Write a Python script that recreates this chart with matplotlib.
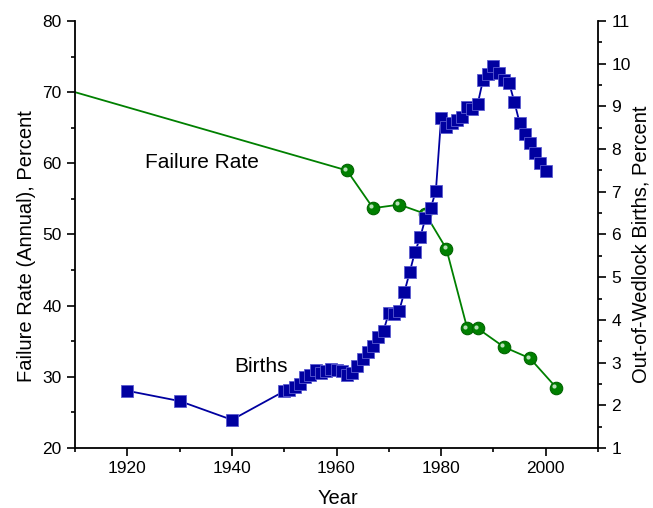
import matplotlib
matplotlib.use("Agg")
import matplotlib.pyplot as plt
import matplotlib.transforms as mtrans
from matplotlib.ticker import MultipleLocator

plt.rcParams['font.family'] = ['Liberation Sans', 'DejaVu Sans']

# Failure rate (left axis)
fail_years = [1910, 1962, 1967, 1972, 1977, 1981, 1985, 1987, 1992, 1997, 2002]
fail_rate = [70.0, 59.0, 53.7, 54.2, 52.9, 48.0, 36.8, 36.8, 34.2, 32.6, 28.5]

# Out-of-wedlock births (right axis)
birth_years = [1920, 1930, 1940] + list(range(1950, 2001))
birth_pct = [2.34, 2.10, 1.66,
             2.33, 2.37, 2.42, 2.50, 2.66, 2.70, 2.83, 2.76, 2.80, 2.86,
             2.83, 2.80, 2.71, 2.76, 2.91, 3.08, 3.24, 3.39, 3.59, 3.75,
             4.16, 4.13, 4.22, 4.66, 5.12, 5.59, 5.93, 6.38, 6.61, 7.02,
             8.73, 8.52, 8.62, 8.67, 8.76, 8.98, 8.94, 9.06, 9.61, 9.75,
             9.94, 9.78, 9.62, 9.55, 9.11, 8.62, 8.36, 8.14, 7.91, 7.67,
             7.48]

green = '#008000'
blue = '#0000A0'

fig = plt.figure(figsize=(6.53, 5.08), dpi=100)
ax = fig.add_axes([75/653, 1-448/508, (598-75)/653, (448-21)/508])
ax2 = ax.twinx()

# green series on left axis
ax.plot(fail_years, fail_rate, color=green, lw=1.3, zorder=2)
ax.plot(fail_years[1:], fail_rate[1:], 'o', ms=9, color=green,
        mec='#006400', mew=0.8, zorder=3)
ax.plot(fail_years[1:], fail_rate[1:], 'o', ms=3, color='#b8e0b8',
        mec='none', zorder=4,
        transform=ax.transData + mtrans.ScaledTranslation(-1.3/72, 1.3/72, fig.dpi_scale_trans))

# blue series on right axis
ax2.plot(birth_years, birth_pct, color=blue, lw=1.3, marker='s', ms=8.5,
         mfc=blue, mec='#5a5ad0', mew=0.6, zorder=3)

ax.set_xlim(1910, 2010)
ax.set_ylim(20, 80)
ax2.set_ylim(1, 11)

ax.xaxis.set_major_locator(MultipleLocator(20))
ax.xaxis.set_minor_locator(MultipleLocator(10))
ax.yaxis.set_major_locator(MultipleLocator(10))
ax.yaxis.set_minor_locator(MultipleLocator(5))
ax2.yaxis.set_major_locator(MultipleLocator(1))
ax2.yaxis.set_minor_locator(MultipleLocator(0.5))

for a in (ax, ax2):
    a.spines['top'].set_visible(False)
    for s in a.spines.values():
        s.set_linewidth(1.3)
    a.tick_params(which='major', direction='out', length=5.5, width=1.2,
                  labelsize=12.5, pad=4)
    a.tick_params(which='minor', direction='out', length=3.2, width=1.2)
ax.spines['right'].set_visible(False)
ax2.spines['left'].set_visible(False)
ax2.spines['bottom'].set_visible(False)

ax.set_xlabel('Year', fontsize=14.5, va='center')
ax.xaxis.set_label_coords(0.503, -0.119)
ax.set_ylabel('Failure Rate (Annual), Percent', fontsize=14.5,
              rotation=90, va='center', ha='center')
ax.yaxis.set_label_coords(-0.092, 0.474)
ax2.set_ylabel('Out-of-Wedlock Births, Percent', fontsize=14.5,
               rotation=90, va='center', ha='center')
ax2.yaxis.set_label_coords(1.082, 0.476)

ax.text(1923.4, 60.05, 'Failure Rate', fontsize=15, ha='left', va='center')
ax.text(1940.4, 31.5, 'Births', fontsize=15, ha='left', va='center')

fig.savefig('out.png', dpi=100)
